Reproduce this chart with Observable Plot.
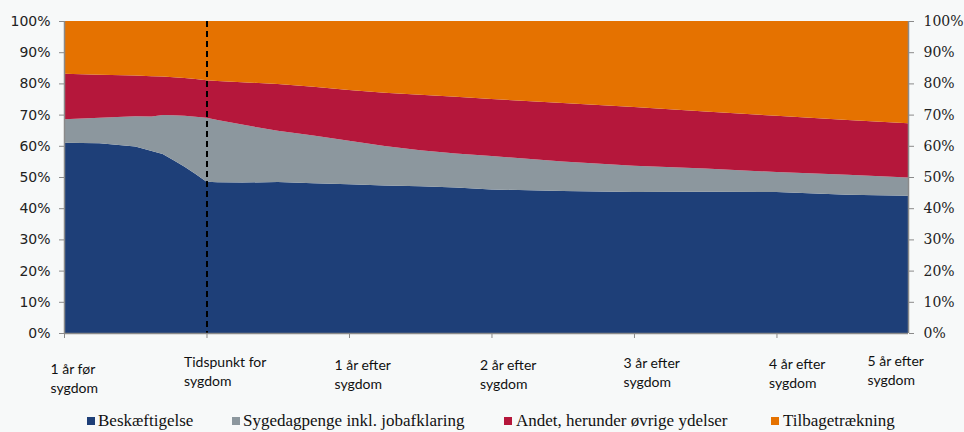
<!DOCTYPE html>
<html>
<head>
<meta charset="utf-8">
<script src="https://cdn.jsdelivr.net/npm/d3@7"></script>
<script src="https://cdn.jsdelivr.net/npm/@observablehq/plot@0.6"></script>
<style>
  html, body { margin: 0; padding: 0; background: #f7f9f9; }
  #wrap { position: relative; width: 964px; height: 432px; overflow: hidden; }
  #chart svg { overflow: visible; display: block; }
  .leg { position: absolute; font-family: "Liberation Serif", serif; font-size: 17px; line-height: 17px; color: #111; white-space: nowrap; }
  .sw { position: absolute; width: 8px; height: 8px; }
</style>
</head>
<body>
<div id="wrap">
  <div id="chart"></div>
  <div id="legend"></div>
</div>
<script>
// ---- data (weeks relative to onset of illness) ----
const weeks = [-52,-39,-26,-20,-16,-12,-8,-4,0,4,13,26,39,52,65,78,91,104,130,156,182,208,234,256];
const beskaeftigelse   = [61.0,60.8,59.8,58.3,57.4,55.4,53.3,51.0,48.5,48.3,48.2,48.4,48.0,47.7,47.3,47.0,46.6,46.0,45.5,45.2,45.3,45.2,44.3,44.0];
const sygedagpenge     = [7.5,8.2,9.7,11.1,12.5,14.4,16.3,18.3,20.5,20.0,18.6,16.4,15.3,13.9,12.6,11.6,10.9,10.7,9.5,8.4,7.4,6.4,6.4,5.8];
const andet            = [14.6,13.8,13.0,12.9,12.3,12.2,12.1,12.1,12.0,12.5,13.6,15.0,15.6,16.3,17.1,17.8,18.2,18.3,18.7,18.8,18.3,18.0,17.6,17.4];
const tilbagetraekning = [16.9,17.2,17.5,17.7,17.8,18.0,18.3,18.6,19.0,19.2,19.6,20.2,21.1,22.1,23.0,23.6,24.3,25.0,26.3,27.6,29.0,30.4,31.7,32.8];
const seriesNames = ["Beskæftigelse", "Sygedagpenge inkl. jobafklaring", "Andet, herunder øvrige ydelser", "Tilbagetrækning"];
const yTicks = [0,10,20,30,40,50,60,70,80,90,100];
const xTickWeeks = [-52,0,52,104,156,208];
const xLabelWeeks = [-52,0,52,104,156,208,256];
const xLabels = ["1 år før\nsygdom", "Tidspunkt for\nsygdom", "1 år efter\nsygdom", "2 år efter\nsygdom", "3 år efter\nsygdom", "4 år efter\nsygdom", "5 år efter\nsygdom"];
const onsetWeek = 0;

// ---- styles ----
const colors = ["#1e3f78", "#8c979e", "#b5173b", "#e57200"];
const axisGrey = "#8a8a8a";
const labelDx = [-14,-23,-15,-12,-11,-8,-41];
const labelDy = [28,21,24,24,22,23,20];

const values = [beskaeftigelse, sygedagpenge, andet, tilbagetraekning];
const data = seriesNames.flatMap((s, i) => weeks.map((w, j) => ({week: w, series: s, value: values[i][j]})));

const chart = Plot.plot({
  width: 964,
  height: 400,
  marginLeft: 64,
  marginRight: 56,
  marginTop: 21,
  marginBottom: 67,
  style: {background: "transparent", color: "#222"},
  x: {domain: [-52, 256]},
  y: {domain: [0, 100]},
  color: {domain: seriesNames, range: colors},
  marks: [
    Plot.areaY(data, {x: "week", y: "value", fill: "series", z: "series", order: seriesNames, curve: "linear"}),
    Plot.ruleX([onsetWeek], {stroke: "#000", strokeWidth: 2, strokeDasharray: "6,4"}),
    Plot.ruleX([-52], {stroke: axisGrey, strokeWidth: 1.5}),
    Plot.ruleX([256], {stroke: axisGrey, strokeWidth: 1.5}),
    Plot.ruleY([0], {stroke: axisGrey, strokeWidth: 1.5}),
    Plot.axisY({anchor: "left", ticks: yTicks, tickFormat: d => d + "%", tickSize: 5, tickPadding: 9, stroke: axisGrey, fill: "#222", fontSize: 14, fontFamily: "DejaVu Sans", label: null}),
    Plot.axisY({anchor: "right", ticks: yTicks, tickFormat: d => d + "%", tickSize: 5, tickPadding: 10, stroke: axisGrey, fill: "#222", fontSize: 14, fontFamily: "DejaVu Serif", label: null}),
    Plot.axisX({ticks: xTickWeeks, tickSize: 5, tickFormat: () => "", stroke: axisGrey, label: null}),
    ...xLabels.map((t, i) => Plot.text([xLabelWeeks[i]], {
      x: d => d, text: () => t, frameAnchor: "bottom", textAnchor: "start", lineAnchor: "top",
      dx: labelDx[i], dy: labelDy[i], fontSize: 14, fontFamily: "Lato", lineHeight: 1.3, fill: "#111"
    }))
  ]
});
document.getElementById("chart").appendChild(chart);

// ---- legend ----
const legPos = [{sq: 87, tx: 98}, {sq: 232, tx: 243}, {sq: 504, tx: 516}, {sq: 771, tx: 783}];
const legend = document.getElementById("legend");
seriesNames.forEach((s, i) => {
  const sw = document.createElement("div");
  sw.className = "sw";
  sw.style.left = legPos[i].sq + "px";
  sw.style.top = "417px";
  sw.style.background = colors[i];
  legend.appendChild(sw);
  const tx = document.createElement("div");
  tx.className = "leg";
  tx.style.left = legPos[i].tx + "px";
  tx.style.top = "412px";
  tx.textContent = s;
  legend.appendChild(tx);
});
</script>
</body>
</html>
